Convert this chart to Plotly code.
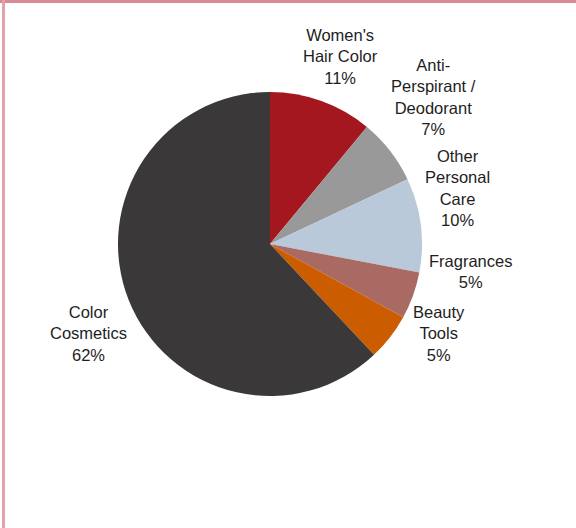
import plotly.graph_objects as go

categories = ["Women's Hair Color", "Anti-Perspirant / Deodorant", "Other Personal Care",
              "Fragrances", "Beauty Tools", "Color Cosmetics"]
values = [11, 7, 10, 5, 5, 62]
label_text = ["Women's<br>Hair Color", "Anti-<br>Perspirant /<br>Deodorant", "Other<br>Personal<br>Care",
              "Fragrances", "Beauty<br>Tools", "Color<br>Cosmetics"]
colors = ["#A5171F", "#999999", "#B9C9D9", "#A86A62", "#CC5C00", "#3A3838"]
# label centres in pixels (x, y from top)
label_pos = [(340, 57), (433, 97), (457, 188), (470, 271), (439, 333), (88, 333)]

W, H = 576, 528
cx, cy, r = 270, 244, 152

fig = go.Figure(go.Pie(
    labels=categories, values=values, sort=False, direction="clockwise", rotation=0,
    marker=dict(colors=colors, line=dict(width=0)),
    textinfo="none", hoverinfo="label+percent", showlegend=False,
    domain=dict(x=[(cx - r) / W, (cx + r) / W], y=[1 - (cy + r) / H, 1 - (cy - r) / H]),
))

total = sum(values)
annotations = []
for txt, v, (px, py) in zip(label_text, values, label_pos):
    annotations.append(dict(
        text=f"{txt}<br>{round(100 * v / total)}%", x=px / W, y=1 - py / H,
        xref="paper", yref="paper", xanchor="center", yanchor="middle",
        showarrow=False, align="center",
        font=dict(family="Liberation Sans, Arial, sans-serif", size=16.5, color="#1E1E1E"),
    ))

shapes = [
    dict(type="rect", xref="paper", yref="paper", x0=0, x1=1, y0=1 - 3 / H, y1=1,
         line=dict(width=0), fillcolor="#D98A92"),
    dict(type="rect", xref="paper", yref="paper", x0=2 / W, x1=5 / W, y0=0, y1=1,
         line=dict(width=0), fillcolor="#E0A3AA"),
]

fig.update_layout(
    width=W, height=H, margin=dict(l=0, r=0, t=0, b=0),
    paper_bgcolor="#FFFFFF", plot_bgcolor="#FFFFFF",
    annotations=annotations, shapes=shapes,
)

fig.write_html("out.html")
